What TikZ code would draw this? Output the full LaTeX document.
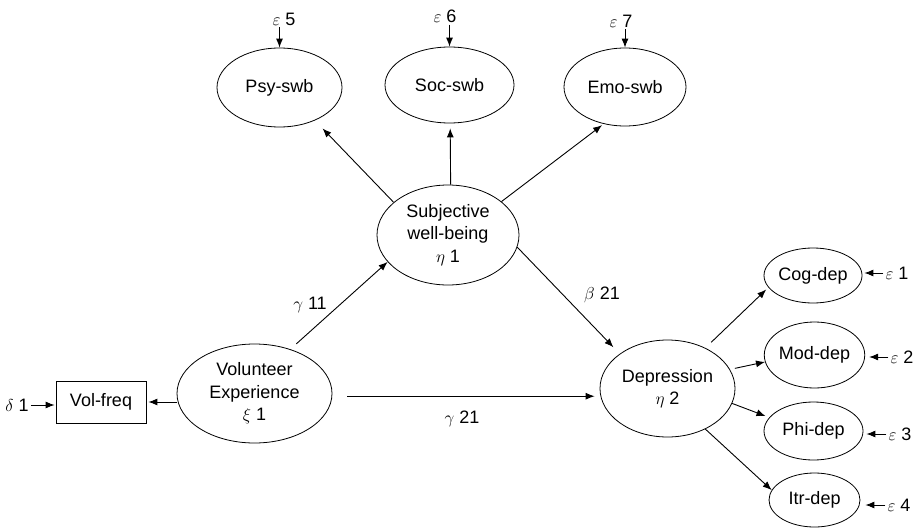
\documentclass[tikz,border=0pt]{standalone}
\usepackage{fontspec}
\setmainfont{Liberation Sans}
\usetikzlibrary{shapes.geometric, arrows.meta}

\begin{document}
\begin{tikzpicture}[x=1pt, y=-1pt, font=\fontsize{18}{22.5}\selectfont,
		latent/.style={draw, ellipse, line width=0.8pt, inner sep=0pt, align=center},
		errlabel/.style={inner sep=2pt},
		arr/.style={-{Latex[length=9pt,width=7pt]}, line width=0.9pt}]
		\useasboundingbox (0,0) rectangle (917,527);

		% Subjective well-being and its indicators
		\node[latent, minimum width=142pt, minimum height=100pt] (swb) at (448,235) {Subjective\\well-being\\$\eta$ 1};
		\node[latent, minimum width=125pt, minimum height=79pt] (psy) at (279.5,87.5) {Psy-swb};
		\node[latent, minimum width=129pt, minimum height=76pt] (soc) at (449.5,85) {Soc-swb};
		\node[latent, minimum width=122pt, minimum height=78pt] (emo) at (625,87) {Emo-swb};
		\node[errlabel] (e5) at (284,19) {$\varepsilon$ 5};
		\node[errlabel] (e6) at (445,16) {$\varepsilon$ 6};
		\node[errlabel] (e7) at (621,21) {$\varepsilon$ 7};

		% Volunteer experience
		\node[latent, minimum width=155pt, minimum height=99pt] (vol) at (254.5,393.5) {Volunteer\\Experience\\$\xi$ 1};
		\node[draw, line width=0.8pt, minimum width=90pt, minimum height=42pt] (volfreq) at (101,402) {Vol-freq};
		\node[errlabel] (d1) at (17,405) {$\delta$ 1};

		% Depression and its indicators
		\node[latent, minimum width=135pt, minimum height=97pt] (dep) at (667.5,388.5) {Depression\\$\eta$ 2};
		\node[latent, minimum width=98pt, minimum height=55pt] (cog) at (813,275.5) {Cog-dep};
		\node[latent, minimum width=99pt, minimum height=66pt] (mod) at (814.5,355) {Mod-dep};
		\node[latent, minimum width=99pt, minimum height=58pt] (phi) at (813.5,431) {Phi-dep};
		\node[latent, minimum width=91pt, minimum height=54pt] (itr) at (814.5,500) {Itr-dep};
		\node[errlabel] (e1) at (897,273) {$\varepsilon$ 1};
		\node[errlabel] (e2) at (902,357) {$\varepsilon$ 2};
		\node[errlabel] (e3) at (900,434) {$\varepsilon$ 3};
		\node[errlabel] (e4) at (899,505) {$\varepsilon$ 4};

		% Path coefficients
		\node (g11) at (310,305) {$\gamma$ 11};
		\node (b21) at (602,295) {$\beta$ 21};
		\node (g21) at (462,419) {$\gamma$ 21};

		% Structural paths
		\draw[arr, shorten <=8pt] (vol.51) -- (swb.204);
		\draw[arr, shorten >=9pt] (swb.-10) -- (dep.144.6);
		\draw[arr, shorten <=15pt, shorten >=5pt] (vol.-2.5) -- (vol.-2.5 -| dep.west);

		% Measurement paths
		\draw[arr, shorten >=11pt] (swb.149.5) -- (psy.-43.6);
		\draw[arr, shorten >=5pt] (swb.87) -- (soc.-89);
		\draw[arr, shorten >=2pt] (swb.32) -- (emo.240.6);
		\draw[arr, shorten >=2pt] (volfreq.east -| vol.west) -- (volfreq.east);
		\draw[arr, shorten <=8pt, shorten >=3pt] (dep.47) -- (cog.195);
		\draw[arr, shorten <=5pt] (dep.17) -- (mod.188);
		\draw[arr, shorten >=4pt] (dep.-13) -- (phi.163);
		\draw[arr] (dep.-47) -- (itr.167);

		% Error terms
		\draw[arr] (psy.north |- e5.south) -- (psy.north);
		\draw[arr] (soc.north |- e6.south) -- (soc.north);
		\draw[arr] (emo.north |- e7.south) -- (emo.north);
		\draw[arr, shorten >=1pt] (d1.east) -- (d1.east -| volfreq.west);
		\draw[arr, shorten >=2pt] (e1.west) -- (e1.west -| cog.east);
		\draw[arr, shorten >=4pt] (e2.west) -- (e2.west -| mod.east);
		\draw[arr, shorten >=3pt] (e3.west) -- (e3.west -| phi.east);
		\draw[arr, shorten >=5pt] (e4.west) -- (e4.west -| itr.east);
	\end{tikzpicture}
\end{document}
